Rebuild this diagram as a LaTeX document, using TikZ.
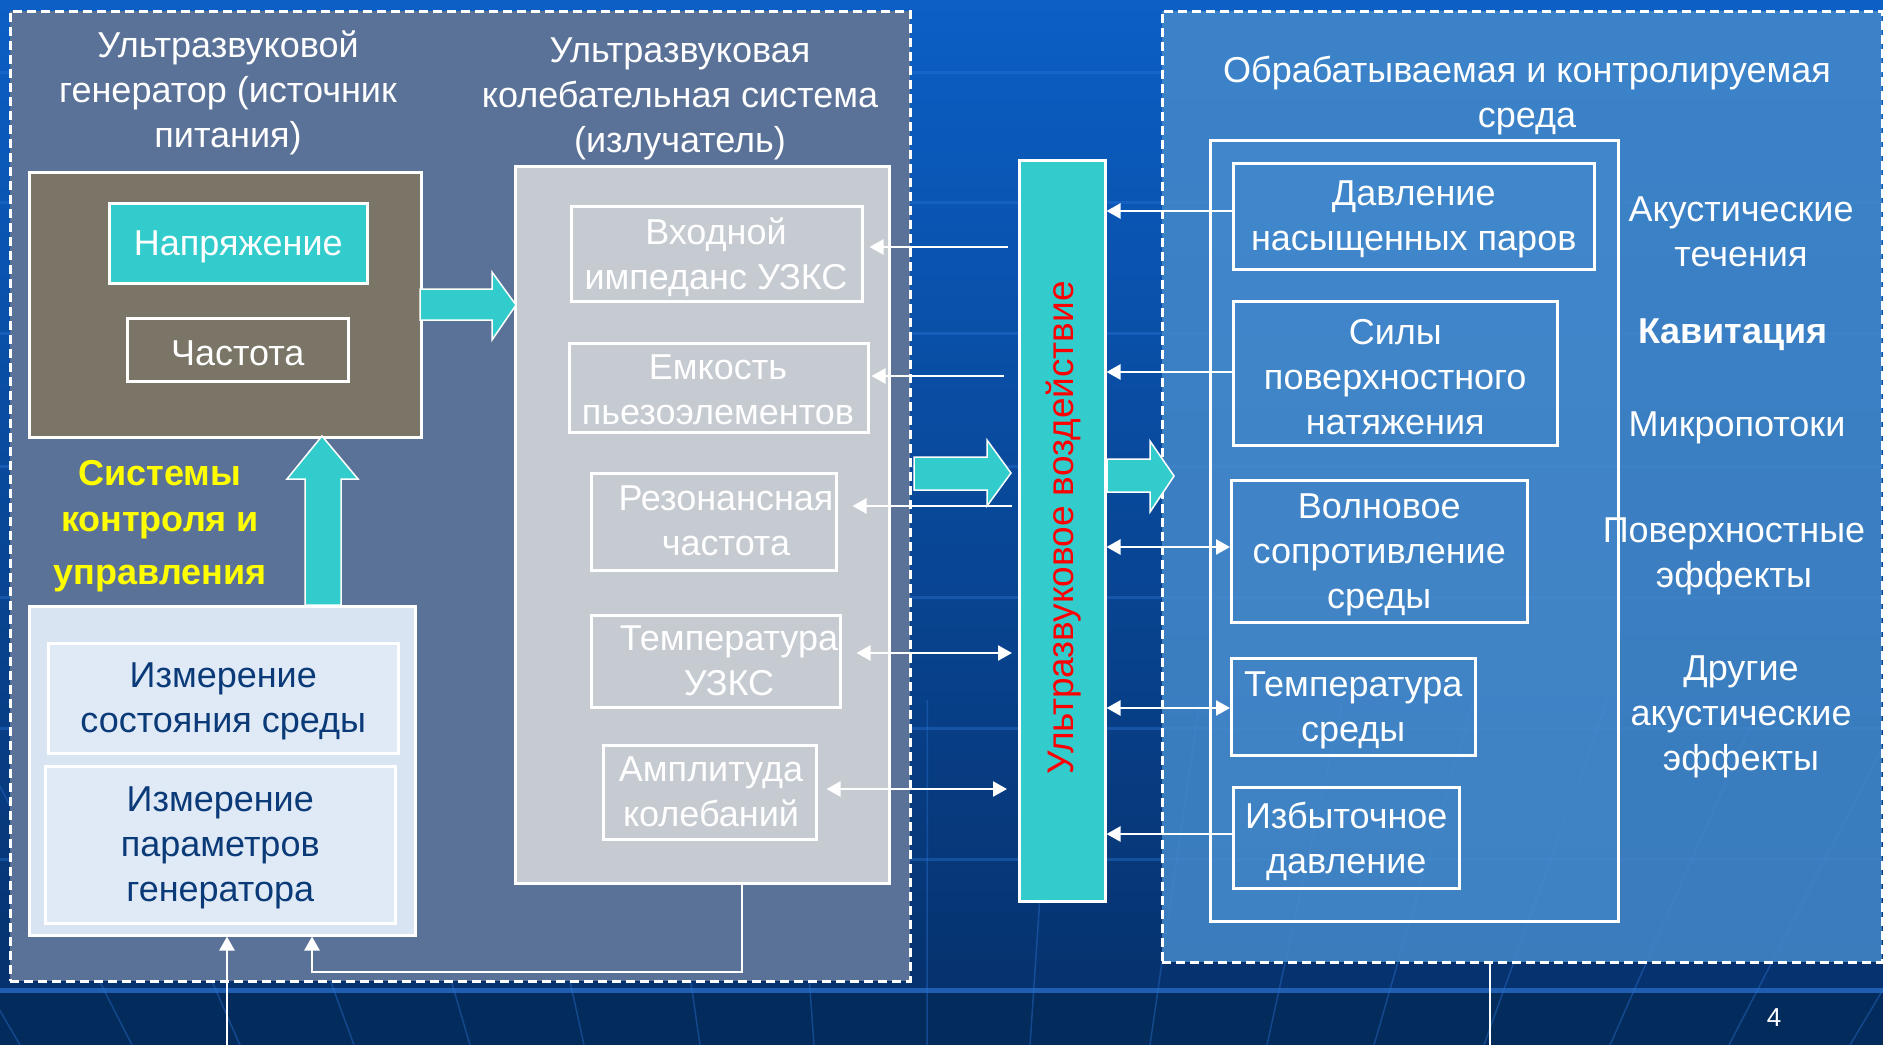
\documentclass[tikz,border=0pt]{standalone}
\usepackage{fontspec}
\setmainfont{Liberation Sans}
\usetikzlibrary{arrows.meta,calc}
\definecolor{tealc}{HTML}{33CCCC}
\definecolor{bgtop}{HTML}{0B5FC6}
\definecolor{bgmid}{HTML}{0A4796}
\definecolor{bgbot}{HTML}{06326E}
\definecolor{bandc}{HTML}{032B5C}
\definecolor{gridc}{HTML}{2C74D6}
\definecolor{stone}{HTML}{5B7298}
\definecolor{burlap}{HTML}{7A7566}
\definecolor{emitc}{HTML}{C6CAD1}
\definecolor{measc}{HTML}{D8E4F1}
\definecolor{measin}{HTML}{E0EAF6}
\definecolor{navyt}{HTML}{0B3A78}
\definecolor{waterA}{HTML}{4489CA}
\definecolor{waterin}{HTML}{4A90D2}
\definecolor{yelt}{HTML}{FFFF00}
\definecolor{redt}{HTML}{FF0000}
\begin{document}
\begin{tikzpicture}[x=1pt,y=-1pt,
  txt/.style={font=\fontsize{36}{45}\selectfont, align=center, text=white, inner sep=0pt},
  lbl/.style={txt, yshift=-3.5pt},
  boxw/.style={draw=white, line width=2.5pt, inner sep=0pt, anchor=north west},
  dashbox/.style={draw=white, line width=2.5pt, dash pattern=on 9pt off 5pt, inner sep=0pt, anchor=north west},
  arr/.style={draw=white, line width=2.5pt, -{Triangle[length=14pt,width=15pt]}},
  darr/.style={draw=white, line width=2.5pt, {Triangle[length=14pt,width=15pt]}-{Triangle[length=14pt,width=15pt]}},
  plainln/.style={draw=white, line width=2pt},
  blockarr/.style={fill=tealc, draw=white, line width=1.5pt, line join=miter},
]
\useasboundingbox (0,0) rectangle (1883,1045);
% background
\shade[top color=bgtop, middle color=bgmid, bottom color=bgbot] (0,0) rectangle (1883,990);
\fill[bandc] (0,990) rectangle (1883,1045);
\foreach \yy in {72,202,333,466,597,728,859}
  \draw[gridc, opacity=0.4, line width=3pt] (0,\yy) -- (1883,\yy);
\draw[gridc!70!bandc, line width=5pt] (0,990) -- (1883,990);
\foreach \xb in {20,132,240,354,470,584,700,814,927,1030,1150,1267,1374,1484,1610,1729,1850} {
  \pgfmathsetmacro\xt{925+(\xb-925)*1.2219}
  \draw[gridc, opacity=0.4, line width=1.5pt] (\xt,700) -- (\xb,1045);
}

% left dashed region
\node[dashbox, fill=stone, minimum width=900, minimum height=970] (leftbox) at (9,10) {};
\node[lbl] (genT) at (228,89) {Ультразвуковой\\генератор (источник\\питания)};
\node[lbl] (emT) at (680,95) {Ультразвуковая\\колебательная система\\(излучатель)};

% generator
\node[boxw, fill=burlap, minimum width=392, minimum height=265] (gen) at (28,171) {};
\node[boxw, fill=tealc, minimum width=258, minimum height=80] (napr) at (108,202) {};
\node[lbl] (naprT) at (napr.center) {Напряжение};
\node[boxw, minimum width=221, minimum height=63] (chast) at (126,317) {};
\node[lbl] (chastT) at (chast.center) {Частота};

% emitter
\node[boxw, fill=emitc, minimum width=374, minimum height=717] (emit) at (514,165) {};
\node[boxw, minimum width=291, minimum height=95] (vkhod) at (570,205) {};
\node[lbl] (vkhodT) at (716,254) {Входной\\импеданс УЗКС};
\node[boxw, minimum width=299, minimum height=89] (emk) at (568,342) {};
\node[lbl] (emkT) at (718,386) {Емкость\\пьезоэлементов};
\node[boxw, minimum width=245, minimum height=97] (rez) at (590,472) {};
\node[lbl] (rezT) at (726,517) {Резонансная\\частота};
\node[boxw, minimum width=249, minimum height=92] (tuz) at (590,614) {};
\node[lbl] (tuzT) at (729,657) {Температура\\УЗКС};
\node[boxw, minimum width=213, minimum height=94] (ampl) at (602,744) {};
\node[lbl] (amplT) at (711,788) {Амплитуда\\колебаний};

% measurement
\node[boxw, fill=measc, minimum width=386, minimum height=329] (meas) at (28,605) {};
\node[boxw, fill=measin, minimum width=350, minimum height=110] (meas1) at (47,642) {};
\node[lbl, text=navyt] (meas1T) at (meas1.center) {Измерение\\состояния среды};
\node[boxw, fill=measin, minimum width=350, minimum height=157] (meas2) at (44,765) {};
\node[lbl, text=navyt] (meas2T) at (meas2.center) {Измерение\\параметров\\генератора};

\node[lbl, text=yelt, font=\fontsize{36}{45}\selectfont\bfseries] (sys) at (160,523) {Системы\\[1pt]контроля и\\[8pt]управления};

% right dashed region
\node[dashbox, fill=waterA, fill opacity=0.85, minimum width=720, minimum height=951] (medium) at (1161,10) {};
\node[lbl] (medT) at (1527,92) {Обрабатываемая и контролируемая\\среда};
\node[boxw, fill=waterin, fill opacity=0.35, minimum width=408, minimum height=781] (inner) at (1209,139) {};
\node[boxw, minimum width=361, minimum height=106] (dav) at (1232,162) {};
\node[lbl] (davT) at (dav.center) {Давление\\насыщенных паров};
\node[boxw, minimum width=324, minimum height=144] (sily) at (1232,300) {};
\node[lbl] (silyT) at (sily.center) {Силы\\поверхностного\\натяжения};
\node[boxw, minimum width=296, minimum height=142] (voln) at (1230,479) {};
\node[lbl] (volnT) at (voln.center) {Волновое\\сопротивление\\среды};
\node[boxw, minimum width=244, minimum height=97] (tsr) at (1230,657) {};
\node[lbl] (tsrT) at (tsr.center) {Температура\\среды};
\node[boxw, minimum width=226, minimum height=101] (izb) at (1232,786) {};
\node[lbl] (izbT) at (izb.center) {Избыточное\\давление};

\node[lbl] (lab1) at (1741,228) {Акустические\\течения};
\node[lbl, font=\fontsize{36}{45}\selectfont\bfseries] (lab2) at (1733,331) {Кавитация};
\node[lbl] (lab3) at (1737,424) {Микропотоки};
\node[lbl] (lab4) at (1734,553) {Поверхностные\\эффекты};
\node[lbl] (lab5) at (1741,713) {Другие\\акустические\\эффекты};

% central bar
\node[boxw, fill=tealc, minimum width=86, minimum height=741] (bar) at (1018,159) {};
\node[font=\fontsize{37}{45}\selectfont, text=redt, rotate=90, inner sep=0pt] (barT) at (1064,528) {Ультразвуковое воздействие};

% block arrows
\draw[blockarr] (420,289) -- (492,289) -- (492,272) -- (516,305) -- (492,340) -- (492,320) -- (420,320) -- cycle;
\draw[blockarr] (305,605) -- (305,479) -- (287,479) -- (322,436) -- (358,479) -- (341,479) -- (341,605) -- cycle;
\draw[blockarr] (914,457) -- (987,457) -- (987,440) -- (1011,473) -- (987,506) -- (987,490) -- (914,490) -- cycle;
\draw[blockarr] (1107,459) -- (1150,459) -- (1150,441) -- (1174,476) -- (1150,512) -- (1150,492) -- (1107,492) -- cycle;

% connectors emitter side
\coordinate (e1) at (1008,247);
\coordinate (e2) at (1004,376);
\coordinate (e3) at (1012,506);
\coordinate (e4) at (1012,653);
\coordinate (e5) at (1007,789);
\draw[arr, shorten >=6pt] (e1) -- (e1 -| vkhod.east);
\draw[arr, shorten >=2pt] (e2) -- (e2 -| emk.east);
\draw[arr, shorten >=15pt] (e3) -- (e3 -| rez.east);
\draw[darr, shorten <=15pt] (e4 -| tuz.east) -- (e4);
\draw[darr, shorten <=9pt] (e5 -| ampl.east) -- (e5);

% connectors medium side
\coordinate (r1) at (1232,211);
\coordinate (r2) at (1232,372);
\coordinate (r3) at (1230,547);
\coordinate (r4) at (1230,708);
\coordinate (r5) at (1232,834);
\draw[arr] (r1 -| dav.west) -- (r1 -| bar.east);
\draw[arr] (r2 -| sily.west) -- (r2 -| bar.east);
\draw[darr] (r3 -| bar.east) -- (r3 -| voln.west);
\draw[darr] (r4 -| bar.east) -- (r4 -| tsr.west);
\draw[arr] (r5 -| izb.west) -- (r5 -| bar.east);

% feedback and in/out lines
\coordinate (fb1) at (742,972);
\coordinate (fb2) at (312,972);
\draw[arr] (fb1 |- emit.south) -- (fb1) -- (fb2) -- (fb2 |- meas.south);
\coordinate (inb) at (227,1045);
\draw[arr] (inb) -- (inb |- meas.south);
\coordinate (outb) at (1490,1045);
\draw[plainln] (outb |- medium.south) -- (outb);

\node[text=white, font=\fontsize{26}{30}\selectfont, inner sep=0pt] (pnum) at (1774,1018) {4};
\end{tikzpicture}
\end{document}
